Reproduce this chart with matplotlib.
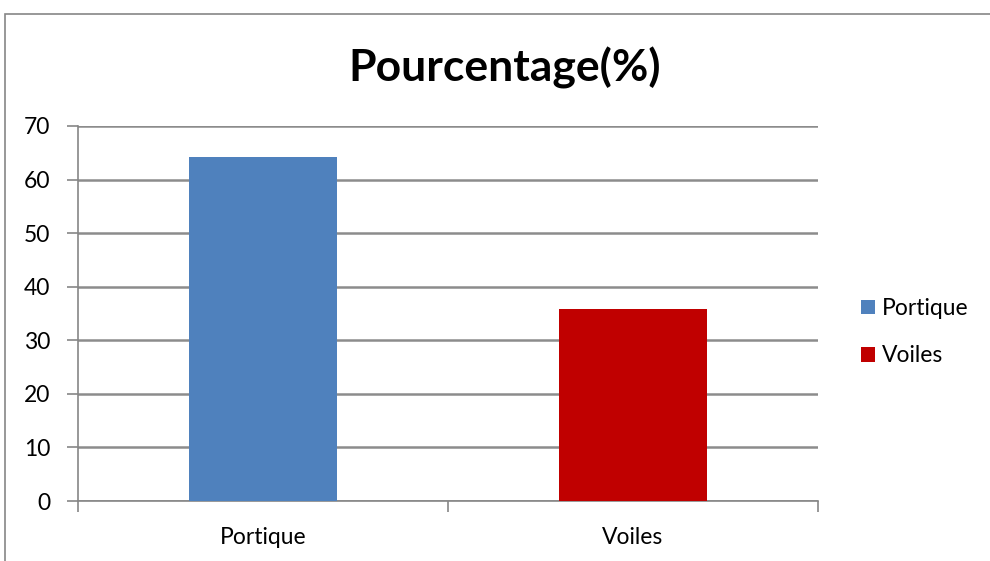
import matplotlib.pyplot as plt
from matplotlib.patches import Rectangle

categories = ["Portique", "Voiles"]
values = [64.2, 35.8]
colors = ["#4f81bd", "#c00000"]
y_ticks = [0, 10, 20, 30, 40, 50, 60, 70]

plt.rcParams['font.family'] = ['Lato', 'DejaVu Sans']

fig = plt.figure(figsize=(9.9, 5.61), dpi=100)
ax = fig.add_axes([78 / 990, 60 / 561, 740 / 990, 375 / 561])

# outer chart frame
frame = Rectangle((5 / 990, -0.01), 1.0, (561 - 14) / 561 + 0.01,
                  transform=fig.transFigure, fill=False,
                  edgecolor="#868686", linewidth=1.2)
fig.patches.append(frame)

x = range(len(categories))
bars = ax.bar(x, values, width=0.4, color=colors, zorder=3)

ax.set_xlim(-0.5, len(categories) - 0.5)
ax.set_ylim(0, 70)
ax.set_yticks(y_ticks)
ax.yaxis.grid(True, color="#8c8c8c", linewidth=1.8, zorder=0)
ax.set_axisbelow(True)

ax.set_xticks(x)
ax.set_xticklabels(categories, fontsize=16.5)
ax.set_xticks([-0.5, 0.5, 1.5], minor=True)
ax.tick_params(axis="x", which="major", length=0, pad=19)
ax.tick_params(axis="x", which="minor", length=8, color="#868686", width=1.2)
ax.tick_params(axis="y", length=8, color="#868686", width=1.2, labelsize=16.5, pad=12)

for side in ["top", "right"]:
    ax.spines[side].set_visible(False)
for side in ["left", "bottom"]:
    ax.spines[side].set_color("#868686")
    ax.spines[side].set_linewidth(1.2)

fig.text(505 / 990, 1 - 68 / 561, "Pourcentage(%)", fontsize=32,
         fontweight="bold", ha="center", va="center")

ax.legend(bars, categories, loc="center left", bbox_to_anchor=(1.058, 0.45),
          frameon=False, fontsize=16.5, handlelength=0.6, handleheight=0.6,
          handletextpad=0.3, labelspacing=1.15, borderpad=0, borderaxespad=0)

fig.savefig("out.png", dpi=100)
